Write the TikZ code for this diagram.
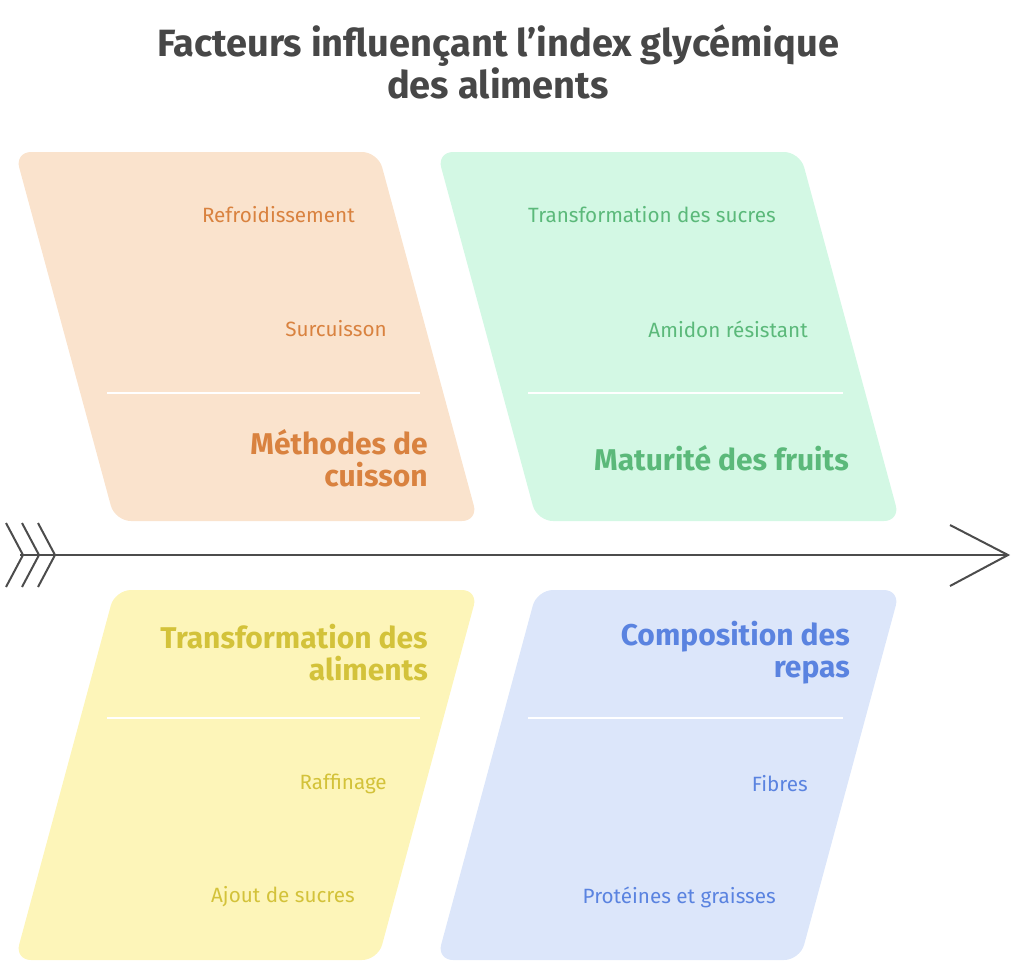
\documentclass[tikz,border=0pt]{standalone}
\usepackage{fontspec}
\setmainfont{Fira Sans}
\begin{document}
\begin{tikzpicture}[x=0.75pt,y=-0.75pt,
 panel/.style={rounded corners=12pt,draw=none},
 item/.style={anchor=east,inner sep=0pt,font=\fontsize{15.5}{18}\selectfont},
 cat/.style={anchor=east,inner sep=0pt,align=right,font=\fontsize{22.5}{24}\bfseries\selectfont},
 sep/.style={white,line width=1.5pt},
 spine/.style={draw=black!70,line width=1.5pt}]
\definecolor{oF}{HTML}{FAE3CD}\definecolor{oT}{HTML}{D9823F}
\definecolor{gF}{HTML}{D3F8E4}\definecolor{gT}{HTML}{5BB97A}
\definecolor{yF}{HTML}{FDF5B9}\definecolor{yT}{HTML}{D3C23A}
\definecolor{bF}{HTML}{DCE6FA}\definecolor{bT}{HTML}{5A83E0}
\useasboundingbox (0,0) rectangle (1024,976);
\node[font=\fontsize{28.5}{32}\bfseries\selectfont,text=black!72,align=center] (title) at (498,62) {Facteurs influençant l'index glycémique\\des aliments};
\fill[panel,oF] (15,152)--(378,152)--(478,521)--(115,521)--cycle;
\fill[panel,gF] (437,152)--(800,152)--(900,521)--(537,521)--cycle;
\fill[panel,yF] (115,590)--(478,590)--(378,960)--(15,960)--cycle;
\fill[panel,bF] (537,590)--(900,590)--(800,960)--(437,960)--cycle;
\draw[sep] (107,393)--(420,393); \draw[sep] (528,393)--(843,393);
\draw[sep] (107,718)--(420,718); \draw[sep] (528,718)--(843,718);
\node[item,text=oT] (a1) at (355,215) {Refroidissement};
\node[item,text=oT] (a2) at (387,329) {Surcuisson};
\node[cat,text=oT] (a) at (428,458) {Méthodes de\\cuisson};
\node[item,text=gT] (b1) at (776,215) {Transformation des sucres};
\node[item,text=gT] (b2) at (808,329) {Amidon résistant};
\node[cat,text=gT] (b) at (849,458) {Maturité des fruits};
\node[cat,text=yT] (c) at (428,653) {Transformation des\\aliments};
\node[item,text=yT] (c1) at (387,784) {Raffinage};
\node[item,text=yT] (c2) at (355,897) {Ajout de sucres};
\node[cat,text=bT] (d) at (850,653) {Composition des\\repas};
\node[item,text=bT] (d1) at (808,784) {Fibres};
\node[item,text=bT] (d2) at (776,897) {Protéines et graisses};
\coordinate (s) at (20,555); \coordinate (e) at (1008,555);
\draw[spine] (s)--(e);
\draw[spine,line join=miter] (950,525)--(e)--(950,586);
\foreach \x in {6,22,38} \draw[spine] (\x,523)--(\x+17,555)--(\x,587);
\end{tikzpicture}
\end{document}
